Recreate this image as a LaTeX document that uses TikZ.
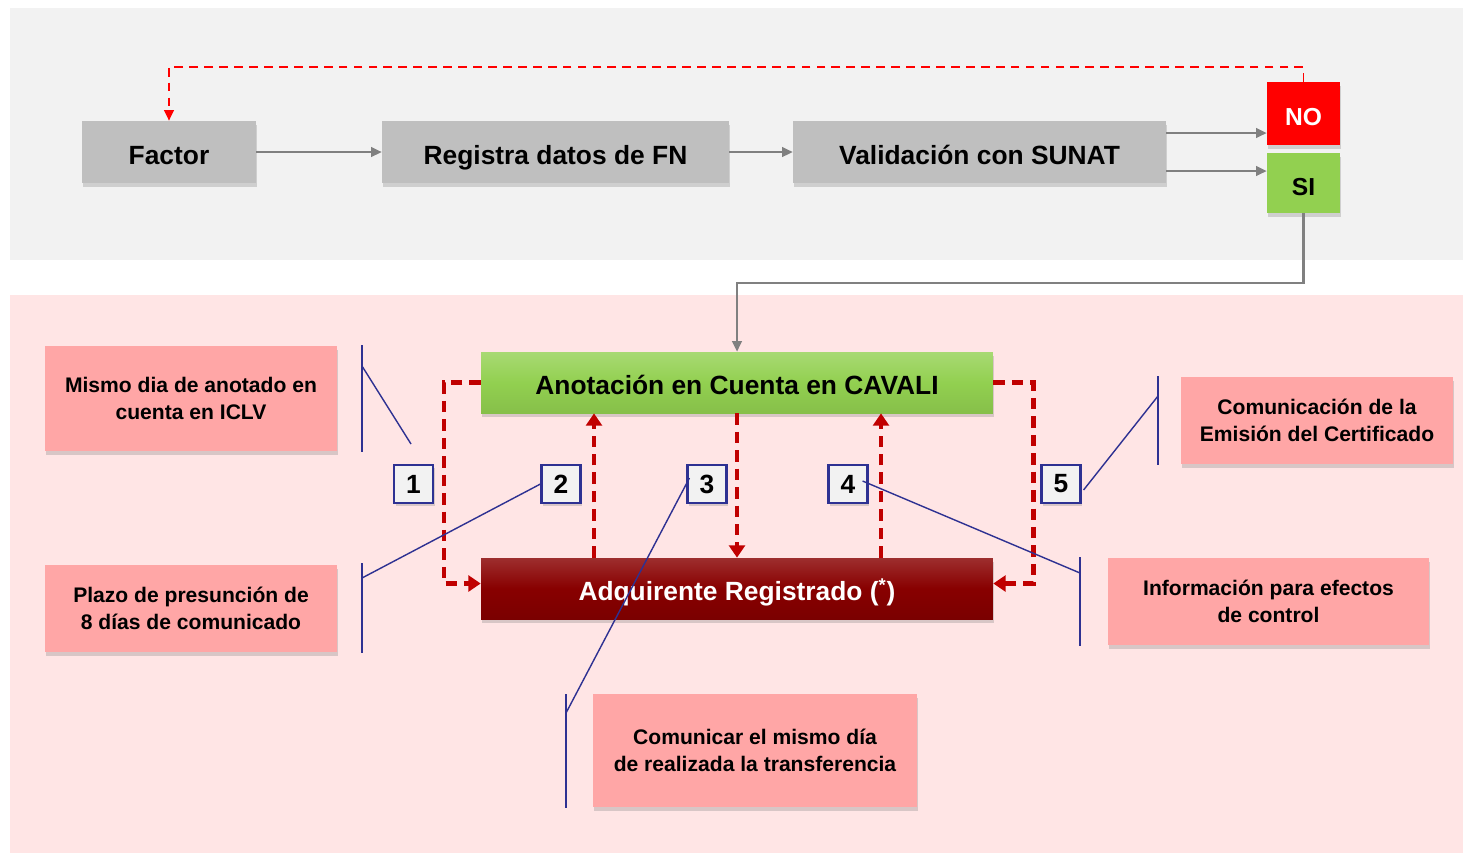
\documentclass[tikz,border=0pt]{standalone}
\usepackage{fontspec}
\setmainfont{Liberation Sans}
\usetikzlibrary{arrows.meta,positioning,shadows,calc}
\definecolor{topBg}{HTML}{F2F2F2}
\definecolor{lowBg}{HTML}{FFE5E5}
\definecolor{boxGray}{HTML}{BFBFBF}
\definecolor{noRed}{HTML}{FF0000}
\definecolor{siGreen}{HTML}{92D050}
\definecolor{adqRed}{HTML}{880000}
\definecolor{noteRose}{HTML}{FFA6A6}
\definecolor{flowRed}{HTML}{C00000}
\definecolor{tagBlue}{HTML}{2E3192}
\definecolor{lineGray}{HTML}{808080}
\tikzset{
	boxshadow/.style={drop shadow={shadow xshift=0.8pt,shadow yshift=-2pt,opacity=0.3}},
	stepbox/.style={fill=boxGray, minimum height=1.24cm, boxshadow, text height=14pt, text depth=0pt,
		font=\bfseries\fontsize{15}{18}\selectfont},
	answer/.style={minimum width=1.46cm, boxshadow, text height=14pt, text depth=0pt,
		font=\bfseries\fontsize{14}{17}\selectfont},
	bigbox/.style={minimum width=10.24cm, minimum height=1.22cm, boxshadow, text height=14pt, text depth=0pt,
		font=\bfseries\fontsize{15}{18}\selectfont},
	note/.style={fill=noteRose, align=center, boxshadow,
		font=\bfseries\fontsize{12}{15}\selectfont},
	tag/.style={draw=tagBlue, line width=1.2pt, fill=topBg, minimum width=0.78cm,
		minimum height=0.76cm, inner sep=0pt, font=\bfseries\fontsize{15}{18}\selectfont,
		drop shadow={shadow xshift=1pt,shadow yshift=-1.5pt,opacity=0.3}},
	flow/.style={->, draw=lineGray, line width=1.2pt},
	back/.style={->, draw=noRed, line width=1.1pt, dash pattern=on 5pt off 3.5pt},
	annot/.style={->, draw=flowRed, line width=2.5pt, dash pattern=on 6.5pt off 4pt,
		>={Triangle[length=7pt,width=9pt]}},
	callout/.style={draw=tagBlue, line width=0.8pt}
}

\begin{document}
\begin{tikzpicture}[x=0.02cm, y=-0.02cm, >={Triangle[length=6pt,width=5.5pt]}]
	\useasboundingbox (0,0) rectangle (1463,853);
	\fill[topBg] (10,8) rectangle (1463,260);
	\fill[lowBg] (10,295) rectangle (1463,853);

	% validation row
	\node[stepbox, minimum width=3.48cm] (factor) at (169,152) {Factor};
	\node[stepbox, minimum width=6.94cm] (registra) at (555.5,152) {Registra datos de FN};
	\node[stepbox, minimum width=7.46cm] (valida) at (979.5,152) {Validación con SUNAT};
	\node[answer, fill=noRed, text=white, minimum height=1.26cm] (no) at (1303.5,113.5) {NO};
	\node[answer, fill=siGreen, minimum height=1.2cm] (si) at (1303.5,183) {SI};

	\draw[flow] (factor.east) -- (registra.west);
	\draw[flow] (registra.east) -- (valida.west);
	\draw[flow] (valida.east |- 0,133) -- (no.west |- 0,133);
	\draw[flow] (valida.east |- 0,171) -- (si.west |- 0,171);
	\draw[back] (no.north) -- (no.north |- 0,67) -| (factor.north);

	% CAVALI
	\node[bigbox, top color=siGreen!80!white, bottom color=siGreen!92!black, middle color=siGreen] (anot) at (737,382.5) {Anotación en Cuenta en CAVALI};
	\node[bigbox, top color=adqRed!82!white, bottom color=adqRed!90!black, middle color=adqRed, text=white] (adq) at (737,588.5) {Adquirente Registrado (\textsuperscript{*})};
	\draw[flow] (si.south) -- (si.south |- 0,283) -| (anot.north);

	\draw[annot] (anot.west) -- ++(-37,0) |- ($(adq.west)+(0,-5)$);
	\draw[annot] (adq.north -| 594,0) -- (anot.south -| 594,0);
	\draw[annot] (anot.south) -- (adq.north);
	\draw[annot] (adq.north -| 881,0) -- (anot.south -| 881,0);
	\draw[annot] (anot.east) -- ++(40,0) |- ($(adq.east)+(0,-5)$);

	\node[tag] (n1) at (413.5,484) {1};
	\node[tag] (n2) at (561,484) {2};
	\node[tag] (n3) at (707,484) {3};
	\node[tag] (n4) at (848,484) {4};
	\node[tag] (n5) at (1061,484) {5};

	\node[note, minimum width=5.84cm, minimum height=2.1cm] (m1) at (191,398.5) {Mismo dia de anotado en\\cuenta en ICLV};
	\node[note, minimum width=5.84cm, minimum height=1.74cm] (m2) at (191,608.5) {Plazo de presunción de\\8 días de comunicado};
	\node[note, minimum width=6.48cm, minimum height=2.26cm] (m3) at (755,750.5) {Comunicar el mismo día\\de realizada la transferencia};
	\node[note, minimum width=6.42cm, minimum height=1.74cm] (m4) at (1268.5,601.5) {Información para efectos\\de control};
	\node[note, minimum width=5.44cm, minimum height=1.74cm] (m5) at (1317,420.5) {Comunicación de la\\Emisión del Certificado};

	% callouts
	\coordinate (c1) at (362,366);
	\coordinate (e1) at (411,444);
	\draw[callout] (362,345) -- (362,452);
	\draw[callout] (c1) -- (e1);
	\coordinate (c2) at (362,578);
	\draw[callout] (362,563) -- (362,653);
	\draw[callout] (c2) -- (n2.west);
	\coordinate (c3) at (566,713);
	\draw[callout] (566,694) -- (566,808);
	\draw[callout] (c3) -- ($(n3.west)+(3,-6)$);
	\coordinate (c4) at (1080,573);
	\draw[callout] (1080,557) -- (1080,646);
	\draw[callout] (c4) -- ($(n4.east)+(-6,-3)$);
	\coordinate (c5) at (1158,396);
	\draw[callout] (1158,376) -- (1158,465);
	\draw[callout] (c5) -- ($(n5.east)+(2,6)$);
\end{tikzpicture}
\end{document}
